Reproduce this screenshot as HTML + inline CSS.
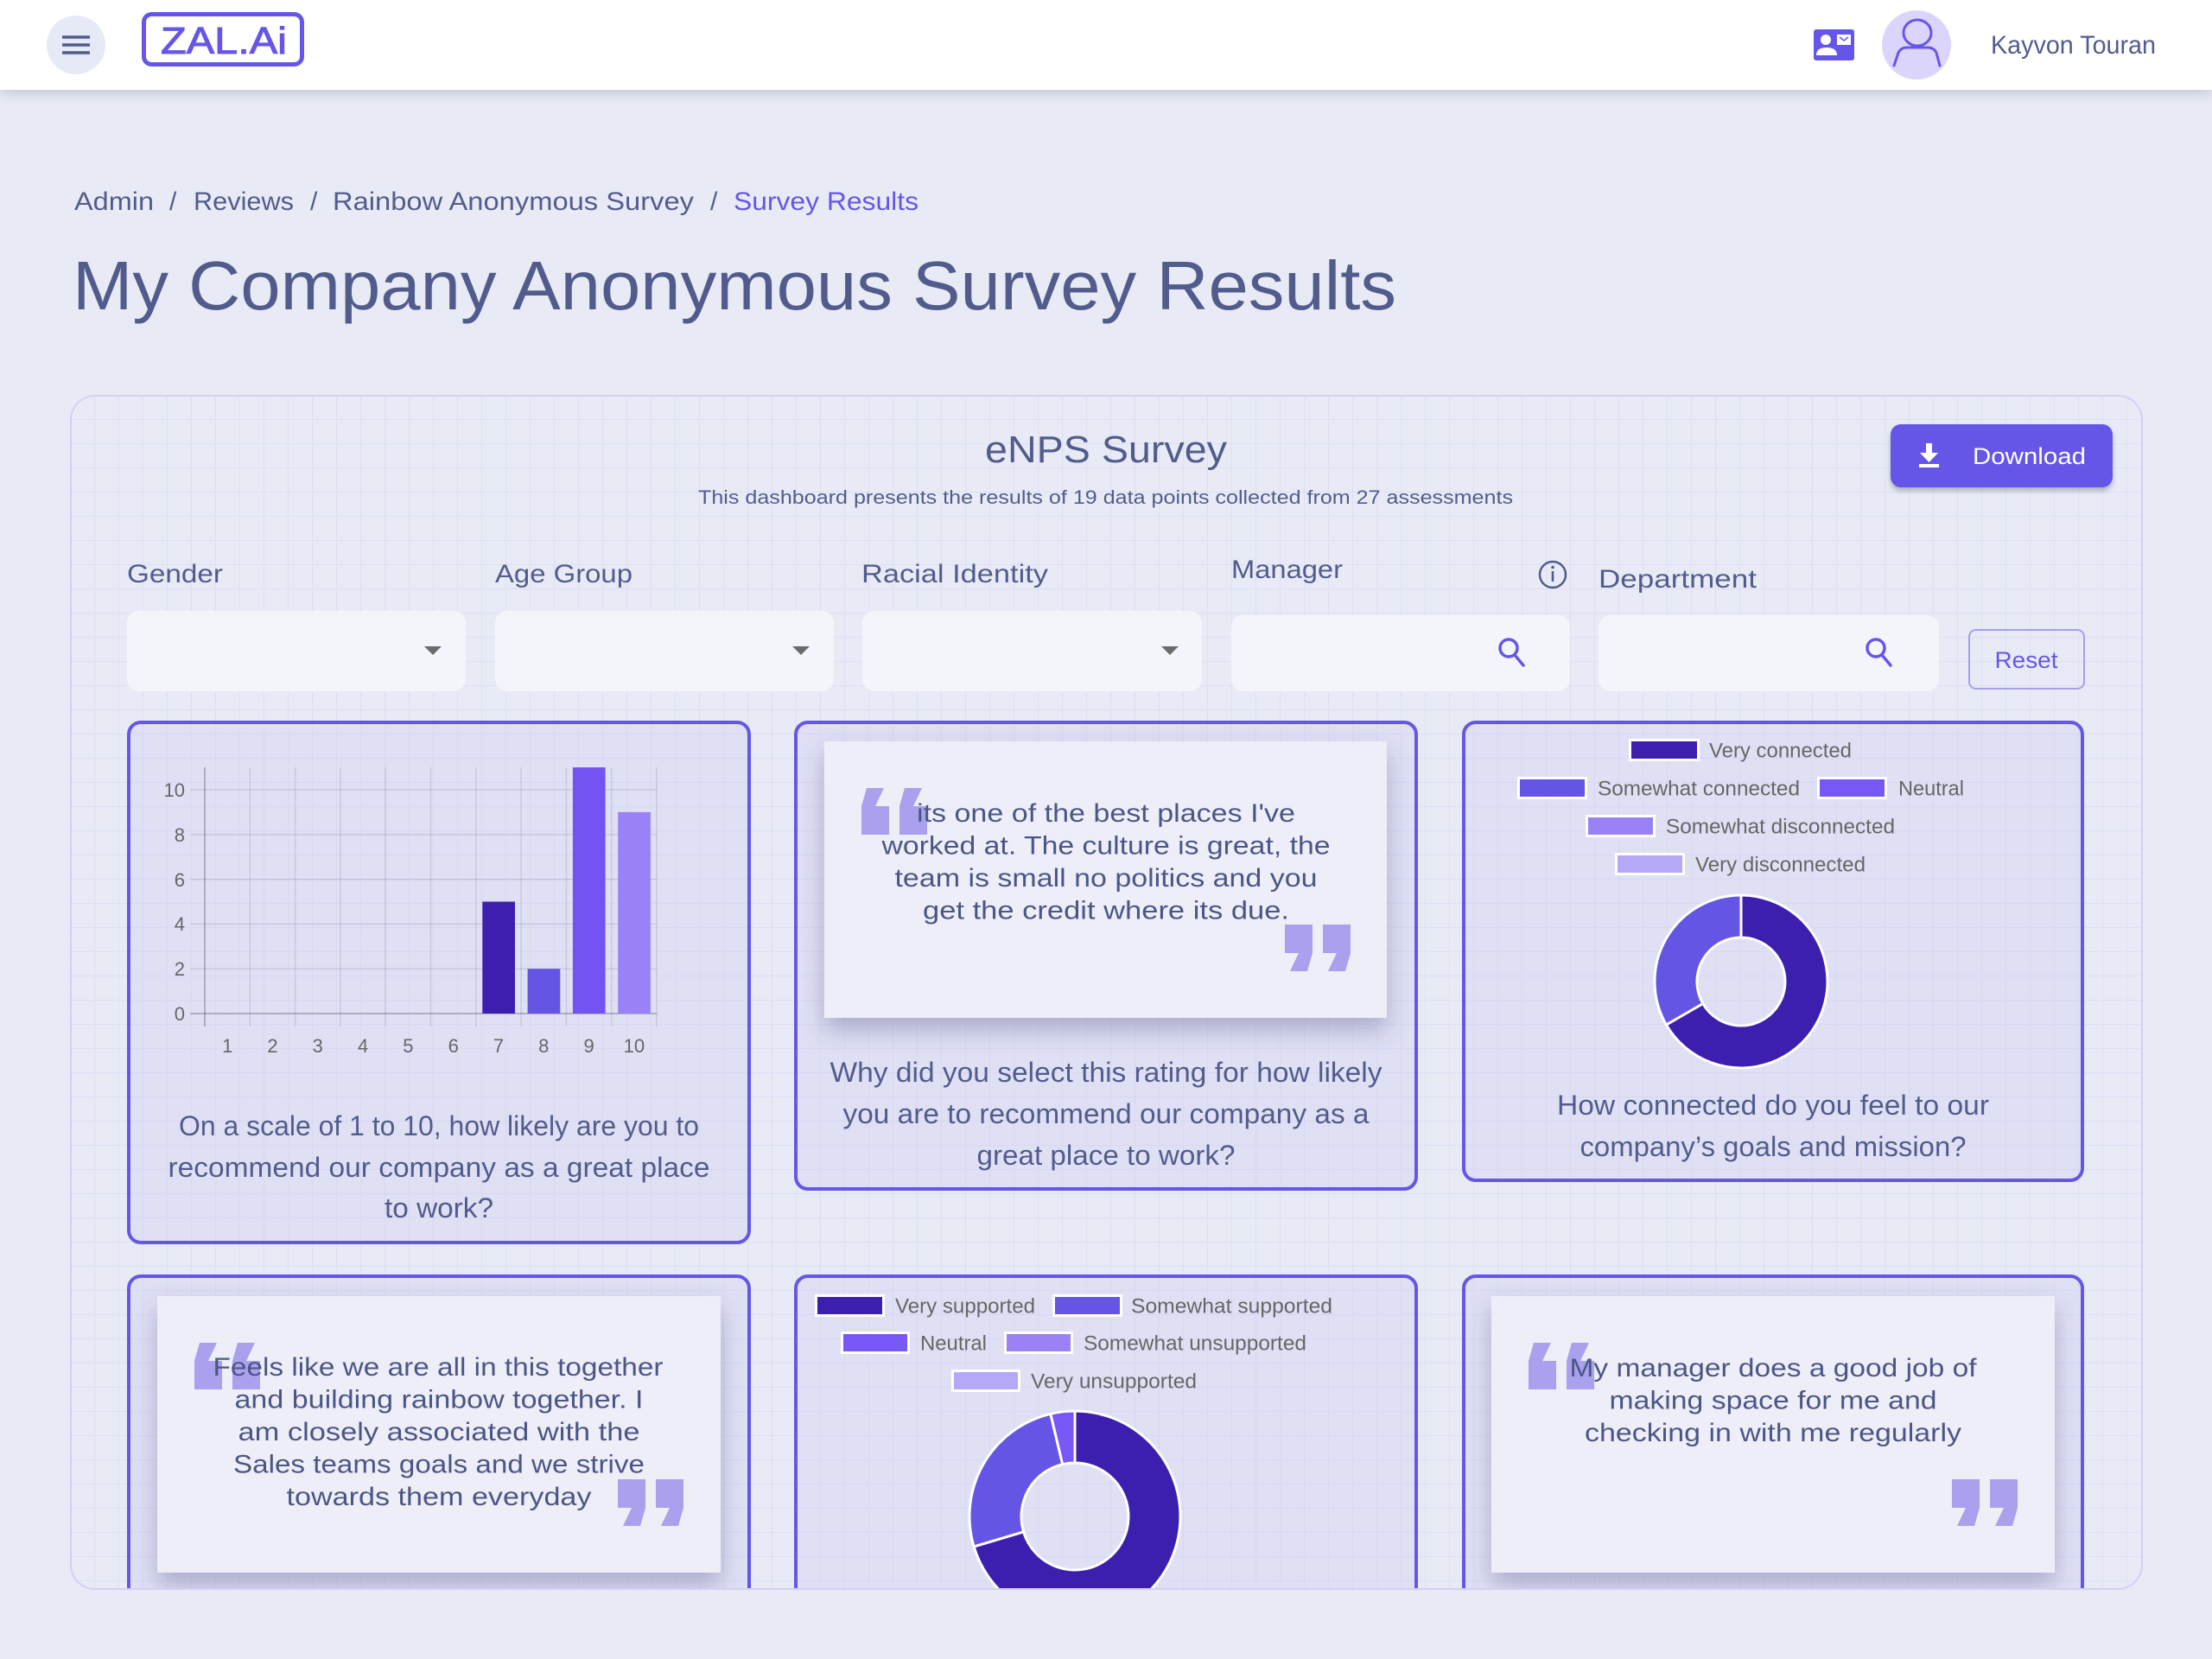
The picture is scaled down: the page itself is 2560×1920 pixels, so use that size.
<!DOCTYPE html>
<html><head><meta charset="utf-8"><style>
html,body{margin:0;padding:0;background:#e8ebf6;}
svg{display:block;}
text{font-family:"Liberation Sans",Arial,sans-serif;}
</style></head><body>
<svg width="2560" height="1920" viewBox="0 0 2560 1920" xmlns="http://www.w3.org/2000/svg">
<defs>
<pattern id="grid" x="81" y="457" width="28" height="28" patternUnits="userSpaceOnUse"><path d="M28 0H0V28" fill="none" stroke="#dadaf3" stroke-width="1.4"/></pattern>
<filter id="hs" x="-5%" y="-50%" width="110%" height="200%"><feDropShadow dx="0" dy="4" stdDeviation="7" flood-color="#1a1a40" flood-opacity="0.16"/></filter>
<filter id="qs" x="-20%" y="-20%" width="140%" height="160%"><feDropShadow dx="0" dy="14" stdDeviation="14" flood-color="#4a4a80" flood-opacity="0.35"/></filter>
<filter id="bs" x="-20%" y="-30%" width="140%" height="180%"><feDropShadow dx="0" dy="4" stdDeviation="3" flood-color="#000" flood-opacity="0.25"/></filter>
<clipPath id="cc"><rect x="82" y="458" width="2397" height="1381" rx="28"/></clipPath>
</defs>

<rect x="0" y="0" width="2560" height="1920" fill="#e8ebf6"/>

<rect x="0" y="0" width="2560" height="104" fill="#fff" filter="url(#hs)"/>
<circle cx="88" cy="52" r="34" fill="#e6e9f6"/>
<g stroke="#525c8c" stroke-width="3.6"><line x1="72" y1="43" x2="104" y2="43"/><line x1="72" y1="52" x2="104" y2="52"/><line x1="72" y1="61" x2="104" y2="61"/></g>
<rect x="166.5" y="16.5" width="183" height="58" rx="9" fill="none" stroke="#6656e8" stroke-width="5"/>
<text x="186" y="62" font-size="44" fill="#6656e8" stroke="#6656e8" stroke-width="1" textLength="146" lengthAdjust="spacingAndGlyphs">ZAL.Ai</text>

<rect x="2099" y="34" width="47" height="36" rx="3" fill="#6656e8"/>
<circle cx="2113" cy="46" r="6" fill="#fff"/>
<path d="M2102 64 Q2102 55 2114 55 Q2126 55 2126 64 Z" fill="#fff"/>
<rect x="2126" y="40" width="16" height="12" fill="#fff"/>
<path d="M2129 43 L2134 47 L2139 43" fill="none" stroke="#6656e8" stroke-width="1.5"/>

<circle cx="2218" cy="52" r="40" fill="#dcd5fb"/>
<ellipse cx="2219" cy="38" rx="16" ry="15" fill="none" stroke="#6656e8" stroke-width="3"/>
<path d="M2192 76 L2197 61 Q2200 55 2207 55 L2231 55 Q2238 55 2241 61 L2245 76" fill="none" stroke="#6656e8" stroke-width="3" stroke-linecap="round"/>
<text x="2304" y="62" font-size="30" fill="#525c8c" textLength="191" lengthAdjust="spacingAndGlyphs">Kayvon Touran</text>

<g font-size="30" fill="#525c8c">
<text x="86" y="243" textLength="92" lengthAdjust="spacingAndGlyphs">Admin</text>
<text x="196" y="243">/</text>
<text x="224" y="243" textLength="116" lengthAdjust="spacingAndGlyphs">Reviews</text>
<text x="359" y="243">/</text>
<text x="385" y="243" textLength="418" lengthAdjust="spacingAndGlyphs">Rainbow Anonymous Survey</text>
<text x="822" y="243">/</text>
<text x="849" y="243" fill="#6656e8" textLength="214" lengthAdjust="spacingAndGlyphs">Survey Results</text>
</g>
<text x="84" y="358" font-size="80" fill="#525c8c" textLength="1532" lengthAdjust="spacingAndGlyphs">My Company Anonymous Survey Results</text>

<rect x="82" y="458" width="2397" height="1381" rx="28" fill="url(#grid)"/>

<g clip-path="url(#cc)">
<text x="1280" y="535" font-size="44" fill="#525c8c" text-anchor="middle" textLength="280" lengthAdjust="spacingAndGlyphs">eNPS Survey</text>
<text x="1279.5" y="583" font-size="22" fill="#525c8c" text-anchor="middle" textLength="943" lengthAdjust="spacingAndGlyphs">This dashboard presents the results of 19 data points collected from 27 assessments</text>

<rect x="2188" y="491" width="257" height="73" rx="12" fill="#6656e8" filter="url(#bs)"/>
<rect x="2229" y="513" width="7" height="12" fill="#fff"/>
<polygon points="2222,524 2243,524 2232.5,535" fill="#fff"/>
<rect x="2221" y="537" width="23" height="4" fill="#fff"/>
<text x="2283" y="537" font-size="27" fill="#fff" textLength="131" lengthAdjust="spacingAndGlyphs">Download</text>

<g font-size="30" fill="#525c8c">
<text x="147" y="674" textLength="111" lengthAdjust="spacingAndGlyphs">Gender</text>
<text x="573" y="674" textLength="159" lengthAdjust="spacingAndGlyphs">Age Group</text>
<text x="997" y="674" textLength="216" lengthAdjust="spacingAndGlyphs">Racial Identity</text>
<text x="1425" y="669" textLength="129" lengthAdjust="spacingAndGlyphs">Manager</text>
<text x="1850" y="680" textLength="183" lengthAdjust="spacingAndGlyphs">Department</text>
</g>
<circle cx="1797" cy="665" r="15" fill="none" stroke="#525c8c" stroke-width="2.5"/>
<rect x="1795.7" y="661" width="2.6" height="12" fill="#525c8c"/>
<circle cx="1797" cy="656.5" r="1.8" fill="#525c8c"/>

<g fill="#f3f5fb">
<rect x="147" y="707" width="392" height="93" rx="14"/>
<rect x="573" y="707" width="392" height="93" rx="14"/>
<rect x="998" y="707" width="393" height="93" rx="14"/>
<rect x="1425" y="712" width="392" height="88" rx="14"/>
<rect x="1850" y="712" width="394" height="88" rx="14"/>
</g>
<g fill="#6b6b6b">
<polygon points="491,748 511,748 501,758"/>
<polygon points="917,748 937,748 927,758"/>
<polygon points="1344,748 1364,748 1354,758"/>
</g>
<g fill="none" stroke="#6656e8" stroke-width="3.5" stroke-linecap="round">
<circle cx="1746" cy="750" r="10"/><line x1="1753" y1="758" x2="1763" y2="770"/>
<circle cx="2171" cy="750" r="10"/><line x1="2178" y1="758" x2="2188" y2="770"/>
</g>
<rect x="2279" y="729" width="133" height="68" rx="8" fill="none" stroke="#a89ef0" stroke-width="2"/>
<text x="2345" y="773" font-size="27" fill="#6656e8" text-anchor="middle" textLength="73" lengthAdjust="spacingAndGlyphs">Reset</text>

<g fill="#c9c6f0" fill-opacity="0.28" stroke="#6557e6" stroke-width="4">
<rect x="149" y="836" width="718" height="602" rx="14"/>
<rect x="921" y="836" width="718" height="540" rx="14"/>
<rect x="1694" y="836" width="716" height="530" rx="14"/>
<rect x="149" y="1477" width="718" height="500" rx="14"/>
<rect x="921" y="1477" width="718" height="500" rx="14"/>
<rect x="1694" y="1477" width="716" height="500" rx="14"/>
</g>

<g stroke="#000" stroke-opacity="0.1" stroke-width="1.5">
<line x1="289.3" y1="888" x2="289.3" y2="1188"/>
<line x1="341.6" y1="888" x2="341.6" y2="1188"/>
<line x1="393.9" y1="888" x2="393.9" y2="1188"/>
<line x1="446.2" y1="888" x2="446.2" y2="1188"/>
<line x1="498.5" y1="888" x2="498.5" y2="1188"/>
<line x1="550.8" y1="888" x2="550.8" y2="1188"/>
<line x1="603.1" y1="888" x2="603.1" y2="1188"/>
<line x1="655.4" y1="888" x2="655.4" y2="1188"/>
<line x1="707.7" y1="888" x2="707.7" y2="1188"/>
<line x1="760" y1="888" x2="760" y2="1188"/>
<line x1="220" y1="914" x2="760" y2="914"/>
<line x1="220" y1="965.8" x2="760" y2="965.8"/>
<line x1="220" y1="1017.6" x2="760" y2="1017.6"/>
<line x1="220" y1="1069.4" x2="760" y2="1069.4"/>
<line x1="220" y1="1121.2" x2="760" y2="1121.2"/>
</g>
<g stroke="#000" stroke-opacity="0.25" stroke-width="1.8">
<line x1="237" y1="888" x2="237" y2="1188"/>
<line x1="220" y1="1173" x2="760" y2="1173"/>
</g>
<rect x="558.3" y="1043.5" width="37.7" height="129.5" fill="#3d1fb0"/>
<rect x="610.6" y="1121.2" width="37.7" height="51.8" fill="#6555e4"/>
<rect x="662.9" y="888.1" width="37.7" height="284.9" fill="#7453f3"/>
<rect x="715.2" y="939.9" width="37.7" height="233.1" fill="#9a82f6"/>
<g font-size="22" fill="#666" text-anchor="end">
<text x="214" y="922">10</text><text x="214" y="974">8</text><text x="214" y="1026">6</text>
<text x="214" y="1077">4</text><text x="214" y="1129">2</text><text x="214" y="1181">0</text>
</g>
<g font-size="22" fill="#666" text-anchor="middle">
<text x="263.2" y="1218">1</text><text x="315.5" y="1218">2</text><text x="367.8" y="1218">3</text>
<text x="420.1" y="1218">4</text><text x="472.4" y="1218">5</text><text x="524.7" y="1218">6</text>
<text x="577" y="1218">7</text><text x="629.3" y="1218">8</text><text x="681.6" y="1218">9</text>
<text x="733.9" y="1218">10</text>
</g>

<g font-size="32" fill="#525c8c" text-anchor="middle">
<text x="508" y="1314" textLength="602" lengthAdjust="spacingAndGlyphs">On a scale of 1 to 10, how likely are you to</text>
<text x="508" y="1362" textLength="627" lengthAdjust="spacingAndGlyphs">recommend our company as a great place</text>
<text x="508" y="1409" textLength="126" lengthAdjust="spacingAndGlyphs">to work?</text>
<text x="1280" y="1252" textLength="639" lengthAdjust="spacingAndGlyphs">Why did you select this rating for how likely</text>
<text x="1280" y="1300" textLength="609" lengthAdjust="spacingAndGlyphs">you are to recommend our company as a</text>
<text x="1280" y="1348" textLength="299" lengthAdjust="spacingAndGlyphs">great place to work?</text>
<text x="2052" y="1290" textLength="500" lengthAdjust="spacingAndGlyphs">How connected do you feel to our</text>
<text x="2052" y="1338" textLength="447" lengthAdjust="spacingAndGlyphs">company’s goals and mission?</text>
</g>

<g fill="#eeeef9" filter="url(#qs)">
<rect x="954" y="858" width="651" height="320"/>
<rect x="182" y="1500" width="652" height="320"/>
<rect x="1726" y="1500" width="652" height="320"/>
</g>
<g fill="#a9a0ee">
<g transform="translate(997,912)"><polygon points="6,0 26,0 16,21 32,21 32,54 0,54 0,21"/><polygon points="50,0 70,0 60,21 76,21 76,54 44,54 44,21"/></g>
<g transform="translate(1487,1070)"><polygon points="26,54 6,54 16,33 0,33 0,0 32,0 32,33"/><polygon points="70,54 50,54 60,33 44,33 44,0 76,0 76,33"/></g>
<g transform="translate(225,1554)"><polygon points="6,0 26,0 16,21 32,21 32,54 0,54 0,21"/><polygon points="50,0 70,0 60,21 76,21 76,54 44,54 44,21"/></g>
<g transform="translate(715,1712)"><polygon points="26,54 6,54 16,33 0,33 0,0 32,0 32,33"/><polygon points="70,54 50,54 60,33 44,33 44,0 76,0 76,33"/></g>
<g transform="translate(1769,1554)"><polygon points="6,0 26,0 16,21 32,21 32,54 0,54 0,21"/><polygon points="50,0 70,0 60,21 76,21 76,54 44,54 44,21"/></g>
<g transform="translate(2259,1712)"><polygon points="26,54 6,54 16,33 0,33 0,0 32,0 32,33"/><polygon points="70,54 50,54 60,33 44,33 44,0 76,0 76,33"/></g>
</g>
<g font-size="30" fill="#4b5685" text-anchor="middle">
<text x="1280" y="951" textLength="438" lengthAdjust="spacingAndGlyphs">its one of the best places I've</text>
<text x="1280" y="988.5" textLength="519" lengthAdjust="spacingAndGlyphs">worked at. The culture is great, the</text>
<text x="1280" y="1026" textLength="489" lengthAdjust="spacingAndGlyphs">team is small no politics and you</text>
<text x="1280" y="1063.5" textLength="424" lengthAdjust="spacingAndGlyphs">get the credit where its due.</text>
<text x="507" y="1592" textLength="521" lengthAdjust="spacingAndGlyphs">Feels like we are all in this together</text>
<text x="508" y="1629.5" textLength="473" lengthAdjust="spacingAndGlyphs">and building rainbow together. I</text>
<text x="508" y="1667" textLength="465" lengthAdjust="spacingAndGlyphs">am closely associated with the</text>
<text x="508" y="1704.5" textLength="476" lengthAdjust="spacingAndGlyphs">Sales teams goals and we strive</text>
<text x="508" y="1742" textLength="353" lengthAdjust="spacingAndGlyphs">towards them everyday</text>
<text x="2052" y="1593" textLength="471" lengthAdjust="spacingAndGlyphs">My manager does a good job of</text>
<text x="2052" y="1630.5" textLength="379" lengthAdjust="spacingAndGlyphs">making space for me and</text>
<text x="2052" y="1668" textLength="436" lengthAdjust="spacingAndGlyphs">checking in with me regularly</text>
</g>

<g fill="#fff">
<rect x="1885" y="855" width="82" height="26"/>
<rect x="1756" y="899" width="81" height="26"/>
<rect x="2103" y="899" width="81" height="26"/>
<rect x="1835" y="943" width="81" height="26"/>
<rect x="1869" y="987" width="81" height="26"/>
</g>
<rect x="1888" y="858" width="76" height="20" fill="#3d1fb0"/>
<rect x="1759" y="902" width="75" height="20" fill="#6555e4"/>
<rect x="2106" y="902" width="75" height="20" fill="#7757f5"/>
<rect x="1838" y="946" width="75" height="20" fill="#9a82f6"/>
<rect x="1872" y="990" width="75" height="20" fill="#b5a8f7"/>
<g font-size="24" fill="#666">
<text x="1978" y="876.5" textLength="165" lengthAdjust="spacingAndGlyphs">Very connected</text>
<text x="1849" y="920.5" textLength="234" lengthAdjust="spacingAndGlyphs">Somewhat connected</text>
<text x="2197" y="920.5" textLength="76" lengthAdjust="spacingAndGlyphs">Neutral</text>
<text x="1928" y="964.5" textLength="265" lengthAdjust="spacingAndGlyphs">Somewhat disconnected</text>
<text x="1962" y="1008.5" textLength="197" lengthAdjust="spacingAndGlyphs">Very disconnected</text>
</g>
<g stroke="#fff" stroke-width="3" stroke-linejoin="round">
<path d="M2015 1036 A100 100 0 1 1 1928.4 1186 L1970.8 1161.5 A51 51 0 1 0 2015 1085 Z" fill="#3d1fb0"/>
<path d="M1928.4 1186 A100 100 0 0 1 2015 1036 L2015 1085 A51 51 0 0 0 1970.8 1161.5 Z" fill="#6555e4"/>
</g>

<g fill="#fff">
<rect x="943" y="1498" width="81" height="26"/>
<rect x="1218" y="1498" width="81" height="26"/>
<rect x="973" y="1541" width="80" height="26"/>
<rect x="1162" y="1541" width="80" height="26"/>
<rect x="1101" y="1585" width="80" height="26"/>
</g>
<rect x="946" y="1501" width="75" height="20" fill="#3d1fb0"/>
<rect x="1221" y="1501" width="75" height="20" fill="#6555e4"/>
<rect x="976" y="1544" width="74" height="20" fill="#7757f5"/>
<rect x="1165" y="1544" width="74" height="20" fill="#9a82f6"/>
<rect x="1104" y="1588" width="74" height="20" fill="#b5a8f7"/>
<g font-size="24" fill="#666">
<text x="1036" y="1519.5" textLength="162" lengthAdjust="spacingAndGlyphs">Very supported</text>
<text x="1309" y="1519.5" textLength="233" lengthAdjust="spacingAndGlyphs">Somewhat supported</text>
<text x="1065" y="1562.5" textLength="77" lengthAdjust="spacingAndGlyphs">Neutral</text>
<text x="1254" y="1562.5" textLength="258" lengthAdjust="spacingAndGlyphs">Somewhat unsupported</text>
<text x="1193" y="1606.5" textLength="192" lengthAdjust="spacingAndGlyphs">Very unsupported</text>
</g>
<g stroke="#fff" stroke-width="3" stroke-linejoin="round">
<path d="M1244 1633 A122 122 0 1 1 1127.12 1789.98 L1184.6 1772.78 A62 62 0 1 0 1244 1693 Z" fill="#3d1fb0"/>
<path d="M1127.12 1789.98 A122 122 0 0 1 1215.87 1636.29 L1229.7 1694.67 A62 62 0 0 0 1184.6 1772.78 Z" fill="#6555e4"/>
<path d="M1215.87 1636.29 A122 122 0 0 1 1244 1633 L1244 1693 A62 62 0 0 0 1229.7 1694.67 Z" fill="#7757f5"/>
</g>
</g>

<rect x="82" y="458" width="2397" height="1381" rx="28" fill="none" stroke="#d3cff5" stroke-width="2"/>
</svg>
</body></html>
